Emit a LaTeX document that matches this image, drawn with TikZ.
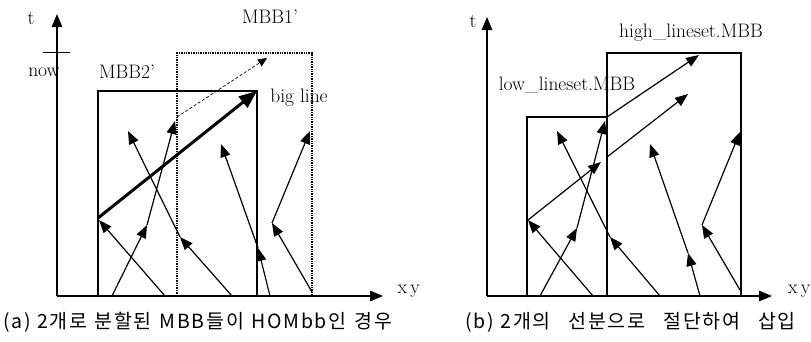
\documentclass[tikz,border=0pt]{standalone}
\usepackage{fontspec}
\newfontfamily\krfont[LetterSpace=9]{Noto Sans CJK KR}
\usetikzlibrary{arrows.meta}
\begin{document}
\begin{tikzpicture}[x=1pt,y=-1pt, line width=1.2pt, line cap=butt,
  arr/.style={-{Triangle[length=13pt,width=10pt]}},
  axis/.style={-{Triangle[length=13pt,width=10.5pt]}, line width=1.3pt},
  bigarr/.style={-{Triangle[length=18pt,width=14pt]}, line width=3pt},
  dasharr/.style={-{Triangle[length=9pt,width=8pt]}, line width=0.7pt, densely dashed},
  box/.style={line width=1.2pt},
  dotbox/.style={line width=1.4pt, densely dotted},
  lab/.style={font=\fontsize{19.5}{19.5}\selectfont, inner sep=0pt},
  captxt/.style={font=\krfont\fontsize{19.5}{19.5}\selectfont, inner sep=0pt}]
\useasboundingbox (0,0) rectangle (811,341);
\fill[white] (0,0) rectangle (811,341);
%% ---------------- left panel ----------------
\coordinate (LO) at (57,296);
\coordinate (LT) at (57,14);
\coordinate (LX) at (383,296);
\draw[axis] (LO) -- (LT);
\draw[axis] (LO) -- (LX);
\coordinate (nowA) at (43,52);
\coordinate (nowB) at (70,52);
\draw[line width=1pt] (nowA) -- (nowB);
\node[lab] (lt) at (31,19) {t};
\node[lab] (lnow) at (44,72) {now};
\node[lab, anchor=west] (lxy) at (397,291) {x\,y};
% MBB2' box
\coordinate (m2a) at (98,296);
\coordinate (m2b) at (98,91);
\coordinate (m2c) at (257,91);
\coordinate (m2d) at (257,296);
\draw[box] (m2a) -- (m2b) -- (m2c) -- (m2d);
% MBB1' dotted box
\coordinate (m1a) at (177,296);
\coordinate (m1b) at (177,53);
\coordinate (m1c) at (312,53);
\coordinate (m1d) at (312,296);
\draw[dotbox] (m1a) -- (m1b) -- (m1c) -- (m1d);
\node[lab] (lmbb2) at (127,72) {MBB2'};
\node[lab] (lmbb1) at (270,17) {MBB1'};
\node[lab] (lbig) at (299,98) {big line};
% big line
\coordinate (bg0) at (98,218);
\draw[bigarr] (bg0) -- (m2c);
% dashed
\coordinate (ds0) at (177,117);
\coordinate (ds1) at (267,58);
\draw[dasharr] (ds0) -- (ds1);
% line A
\coordinate (a0) at (165,296);
\coordinate (a1) at (99,220);
\draw[arr] (a0) -- (a1);
% line B
\coordinate (b0) at (112,296);
\coordinate (b1) at (147,225);
\coordinate (b2) at (175,121);
\draw[arr] (b0) -- (b1);
\draw[arr] (b1) -- (b2);
% line C
\coordinate (c0) at (232,296);
\coordinate (c1) at (180,237);
\coordinate (c2) at (128,131);
\draw[arr] (c0) -- (c1);
\draw[arr] (c1) -- (c2);
% line D
\coordinate (d0) at (270,296);
\coordinate (d1) at (258,248);
\coordinate (d2) at (221,144);
\draw[arr] (d0) -- (d1);
\draw[arr] (d1) -- (d2);
% line E
\coordinate (e0) at (312,292);
\coordinate (e1) at (272,223);
\coordinate (e2) at (310,131);
\draw[arr] (e0) -- (e1);
\draw[arr] (e1) -- (e2);
%% ---------------- right panel ----------------
\coordinate (RO) at (487,296);
\coordinate (RT) at (487,17);
\coordinate (RX) at (772,296);
\draw[axis] (RO) -- (RT);
\draw[axis] (RO) -- (RX);
\node[lab] (rt) at (473,22) {t};
\node[lab, anchor=east] (rxy) at (811,291) {x\,y};
% low box
\coordinate (la) at (527,296);
\coordinate (lb) at (527,117);
\coordinate (lc) at (607,117);
\coordinate (ld) at (607,296);
\draw[box] (la) -- (lb) -- (lc) -- (ld);
% high box
\coordinate (hb) at (607,53);
\coordinate (hc) at (741,53);
\coordinate (hd) at (741,296);
\draw[box] (lc) -- (hb) -- (hc) -- (hd);
\node[lab] (lhigh) at (691,33) {high\_lineset.MBB};
\node[lab] (llow) at (567,85) {low\_lineset.MBB};
% split big line
\coordinate (s0) at (528,220);
\coordinate (s1) at (601,162);
\coordinate (s2) at (607,157);
\coordinate (s3) at (688,94);
\draw[arr] (s0) -- (s1);
\draw[arr] (s2) -- (s3);
% upper line
\coordinate (u1) at (699,55);
\draw[arr] (lc) -- (u1);
% line A'
\coordinate (ra0) at (593,296);
\coordinate (ra1) at (528,220);
\draw[arr] (ra0) -- (ra1);
% line B'
\coordinate (rb0) at (540,296);
\coordinate (rb1) at (577,228);
\coordinate (rb2) at (605,121);
\draw[arr] (rb0) -- (rb1);
\draw[arr] (rb1) -- (rb2);
% line C'
\coordinate (rc0) at (660,296);
\coordinate (rc1) at (610,237);
\coordinate (rc2) at (557,131);
\draw[arr] (rc0) -- (rc1);
\draw[arr] (rc1) -- (rc2);
% line D'
\coordinate (rd0) at (700,296);
\coordinate (rd1) at (688,253);
\coordinate (rd2) at (650,144);
\draw[arr] (rd0) -- (rd1);
\draw[arr] (rd1) -- (rd2);
% line E'
\coordinate (re0) at (740,290);
\coordinate (re1) at (702,225);
\coordinate (re2) at (740,132);
\draw[arr] (re0) -- (re1);
\draw[arr] (re1) -- (re2);
%% captions
\node[captxt, anchor=west] (capa) at (3,322) {(a) 2개로\hspace{0.35em}분할된\hspace{0.1em} MBB들이\hspace{0.05em} HOMbb인\hspace{0.1em} 경우};
\node[captxt, anchor=west] (capb) at (465,322) {(b) 2개의\hspace{0.6em} 선분으로\hspace{0.6em} 절단하여\hspace{0.6em} 삽입};
\end{tikzpicture}
\end{document}
